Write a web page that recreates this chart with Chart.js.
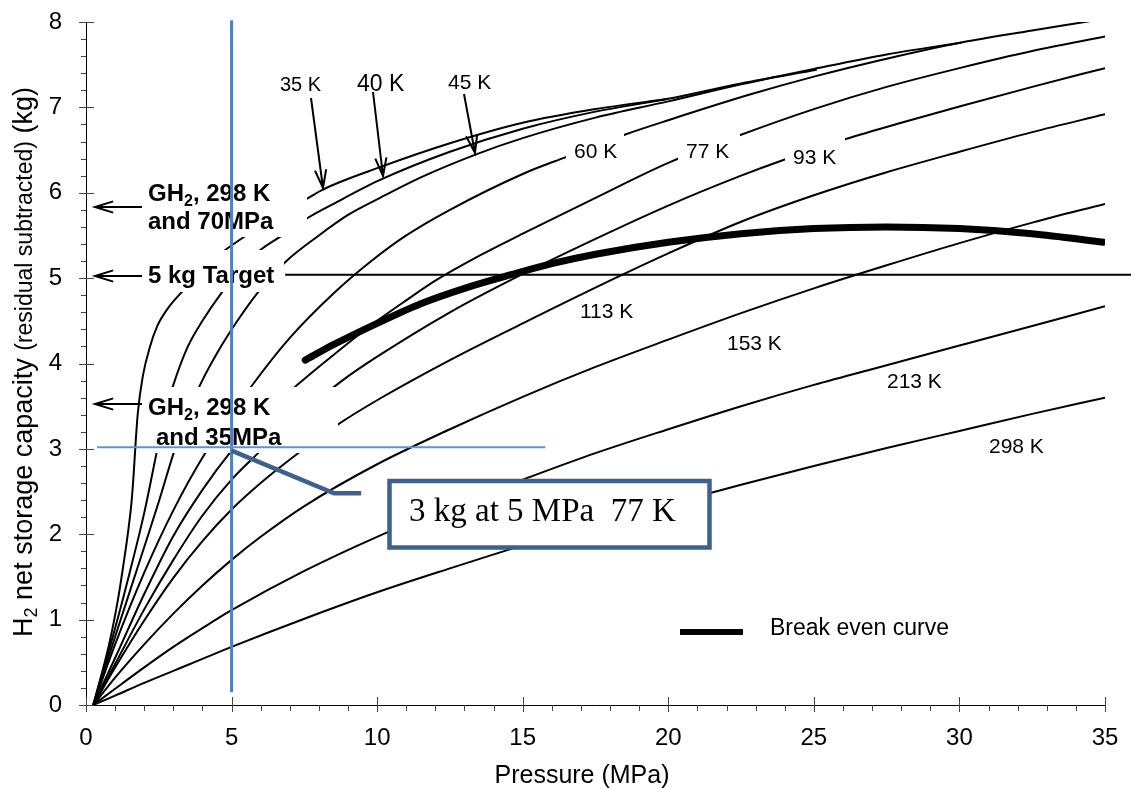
<!DOCTYPE html>
<html>
<head>
<meta charset="utf-8">
<title>H2 net storage capacity</title>
<script src="https://cdn.jsdelivr.net/npm/chart.js@4.4.1/dist/chart.umd.min.js"></script>
<style>
  html, body { margin: 0; padding: 0; background: #fff; }
  #wrap { width: 1131px; height: 789px; }
</style>
</head>
<body>
<div id="wrap"><canvas id="capacity-chart" width="1131" height="789"></canvas></div>
<script>
// axis ticks
const pressureTicks = [0, 5, 10, 15, 20, 25, 30, 35];
const capacityTicks = [0, 1, 2, 3, 4, 5, 6, 7, 8];

// isotherms, [pressure (MPa), net capacity (kg)]
const iso35K = [[0.25, 0], [0.8, 0.72], [1.1, 1.24], [1.31, 1.7], [1.45, 2.04], [1.57, 2.4], [1.64, 2.72], [1.7, 3.05],
  [1.78, 3.42], [1.95, 3.85], [2.2, 4.2], [2.45, 4.44], [2.8, 4.64], [3.3, 4.84], [4.0, 5.08], [4.6, 5.28], [5.37, 5.47],
  [6.5, 5.72], [7.64, 5.94], [8.15, 6.04], [10.1, 6.3], [12.5, 6.58], [15, 6.82], [17.5, 6.98], [20, 7.1]];
const iso40K = [[0.25, 0], [1, 0.9], [1.5, 1.55], [2.0, 2.25], [2.41, 2.93], [2.7, 3.4], [3.0, 3.75], [3.5, 4.2], [4.0, 4.5],
  [4.68, 4.84], [5.3, 5.1], [5.99, 5.33], [6.74, 5.5], [7.64, 5.71], [8.5, 5.87], [10.1, 6.15], [12.5, 6.48], [15, 6.75],
  [17.5, 6.95], [20, 7.1], [22.5, 7.28], [25.1, 7.44]];
const iso45K = [[0.25, 0], [1, 0.8], [2, 1.85], [2.5, 2.38], [2.99, 2.93], [3.45, 3.38], [3.92, 3.75], [4.5, 4.12], [5.2, 4.5],
  [5.92, 4.84], [6.85, 5.19], [8, 5.5], [9, 5.74], [10.1, 5.94], [11.5, 6.18], [13.4, 6.45], [15, 6.64], [17.5, 6.88],
  [20, 7.07], [22.5, 7.27], [25, 7.45], [27.5, 7.62], [30.07, 7.76]];
const iso60K = [[0.25, 0], [1, 0.71], [2, 1.55], [3, 2.28], [4.06, 2.93], [5, 3.4], [5.74, 3.76], [7, 4.3], [8.5, 4.82],
  [9.8, 5.2], [11, 5.5], [12.5, 5.8], [15, 6.22], [16.5, 6.42], [18.5, 6.68], [20, 6.85], [22.8, 7.15], [25, 7.36],
  [27.5, 7.57], [30.07, 7.76], [32.5, 7.9], [34.3, 8.0], [35, 8.04]];
const iso77K = [[0.25, 0], [1, 0.55], [2, 1.3], [3, 1.98], [4, 2.52], [5, 2.98], [6, 3.36], [7.26, 3.75], [8.5, 4.1],
  [10, 4.5], [11, 4.74], [12, 4.97], [13.5, 5.26], [15, 5.52], [17.5, 5.94], [20, 6.35], [22.5, 6.68], [25, 6.98],
  [27.5, 7.24], [30, 7.46], [32.5, 7.66], [35, 7.83]];
const iso93K = [[0.25, 0], [1, 0.48], [2, 1.12], [3, 1.7], [4, 2.22], [5, 2.64], [5.85, 2.93], [7, 3.3], [8.8, 3.8],
  [10, 4.08], [12.5, 4.6], [14.6, 4.98], [17.5, 5.46], [20, 5.85], [22.5, 6.2], [24, 6.39], [26.1, 6.63], [28, 6.82],
  [30, 7.01], [32.5, 7.24], [35, 7.46]];
const iso113K = [[0.25, 0], [1, 0.44], [2, 0.99], [3, 1.49], [4, 1.92], [5, 2.29], [6, 2.6], [7.33, 2.96], [8.67, 3.29],
  [10.1, 3.59], [12.5, 4.04], [15, 4.47], [18.3, 5.02], [20, 5.29], [22.5, 5.66], [25, 5.97], [27.5, 6.24], [30, 6.48],
  [32.5, 6.71], [35, 6.92]];
const iso153K = [[0.25, 0], [1, 0.32], [2, 0.71], [3, 1.07], [4, 1.4], [5, 1.7], [6, 1.97], [7.5, 2.33], [10, 2.82],
  [12.5, 3.23], [15, 3.61], [17.5, 3.96], [20, 4.28], [22.5, 4.59], [25, 4.88], [27.5, 5.15], [30, 5.41], [32.5, 5.65],
  [35, 5.87]];
const iso213K = [[0.25, 0], [1, 0.19], [2, 0.44], [3, 0.68], [4, 0.9], [5, 1.11], [7.5, 1.57], [10, 1.97], [12.5, 2.32],
  [15, 2.64], [17.5, 2.95], [20, 3.23], [22.5, 3.5], [25, 3.75], [27.5, 3.98], [30, 4.21], [32.5, 4.44], [35, 4.67]];
const iso298K = [[0.25, 0], [1, 0.11], [2, 0.26], [3, 0.4], [4, 0.54], [5, 0.68], [7.5, 1.01], [10, 1.32], [12.5, 1.6],
  [15, 1.87], [17.5, 2.12], [20, 2.35], [22.5, 2.58], [25, 2.8], [27.5, 3.01], [30, 3.21], [32.5, 3.41], [35, 3.6]];

const breakEven = [[7.53, 4.04], [8.5, 4.22], [10, 4.47], [11.5, 4.7], [13, 4.88], [14.6, 5.04], [16, 5.17], [17.5, 5.28],
  [20, 5.42], [22.5, 5.52], [25, 5.58], [27.5, 5.6], [30, 5.58], [32.5, 5.52], [34.95, 5.42]];
const targetLine = [[6.84, 5.04], [35.9, 5.04]];

// 77 K reading at 5 MPa
const refPressure = 5;
const refCapacity = 3.02;

const isotherms = [iso35K, iso40K, iso45K, iso60K, iso77K, iso93K, iso113K, iso153K, iso213K, iso298K];

const SANS = '"Liberation Sans", Arial, Helvetica, sans-serif';
const SERIF = '"Liberation Serif", "Times New Roman", serif';
const BLUE = 'rgb(79,129,189)';
const NAVY = 'rgb(62,96,143)';

const toXY = pts => pts.map(([x, y]) => ({ x, y }));

const datasets = [
  { label: 'Break even curve', data: toXY(breakEven), borderWidth: 7, borderCapStyle: 'round' },
  { label: '5 kg target', data: toXY(targetLine), borderWidth: 2, clip: false }
].concat(isotherms.map(pts => ({ data: toXY(pts), borderWidth: 2 })));

datasets.forEach(d => Object.assign(d, {
  showLine: true, borderColor: '#000', pointRadius: 0, fill: false, cubicInterpolationMode: 'monotone'
}));

// axis lines with crossing major ticks and outside minor ticks
const axisMarks = {
  id: 'axisMarks',
  beforeDatasetsDraw(chart) {
    const { ctx, chartArea: a, scales: { x, y } } = chart;
    ctx.save();
    ctx.strokeStyle = '#000';
    ctx.lineWidth = 1;
    ctx.beginPath();
    ctx.moveTo(a.left + 0.5, a.top);
    ctx.lineTo(a.left + 0.5, a.bottom + 0.5);
    ctx.lineTo(a.right, a.bottom + 0.5);
    ctx.stroke();
    ctx.strokeStyle = '#444';
    ctx.beginPath();
    for (let i = 0; i <= 40; i++) {
      const py = Math.round(y.getPixelForValue(i / 5)) + 0.5;
      ctx.moveTo(a.left - (i % 5 === 0 ? 7 : 5), py);
      ctx.lineTo(a.left + (i % 5 === 0 ? 8 : 0), py);
    }
    for (let i = 0; i <= 35; i++) {
      const px = Math.round(x.getPixelForValue(i)) + 0.5;
      ctx.moveTo(px, a.bottom + (i % 5 === 0 ? 7 : 6));
      ctx.lineTo(px, a.bottom - (i % 5 === 0 ? 8 : 0));
    }
    ctx.stroke();
    ctx.restore();
  }
};

function arrow(ctx, x1, y1, x2, y2) {
  const ang = Math.atan2(y2 - y1, x2 - x1);
  const len = 19, spread = 0.3;
  ctx.beginPath();
  ctx.moveTo(x1, y1);
  ctx.lineTo(x2, y2);
  ctx.moveTo(x2 - len * Math.cos(ang - spread), y2 - len * Math.sin(ang - spread));
  ctx.lineTo(x2, y2);
  ctx.lineTo(x2 - len * Math.cos(ang + spread), y2 - len * Math.sin(ang + spread));
  ctx.stroke();
}

// text made of runs with their own size / vertical shift
function runs(ctx, x, y, parts, weight) {
  let cx = x;
  parts.forEach(p => {
    ctx.font = `${weight} ${p.size}px ${SANS}`;
    ctx.fillText(p.t, cx, y + (p.dy || 0));
    cx += ctx.measureText(p.t).width;
  });
  return cx - x;
}

function runsWidth(ctx, parts, weight) {
  return parts.reduce((w, p) => {
    ctx.font = `${weight} ${p.size}px ${SANS}`;
    return w + ctx.measureText(p.t).width;
  }, 0);
}

const annotations = {
  id: 'annotations',
  afterDatasetsDraw(chart) {
    const { ctx, scales: { x, y } } = chart;
    ctx.save();

    // white text boxes sitting over the curves
    ctx.fillStyle = '#fff';
    [[145, 186, 162, 51], [145, 250, 139, 42], [145, 387, 193, 66],
     [566, 133, 58, 33], [678, 133, 62, 33], [785, 137, 60, 31]].forEach(r => ctx.fillRect(...r));

    ctx.fillStyle = '#000';
    ctx.strokeStyle = '#000';
    ctx.lineWidth = 2;
    ctx.textBaseline = 'alphabetic';
    ctx.textAlign = 'left';

    // left-hand references
    const gh2 = [{ t: 'GH', size: 24 }, { t: '2', size: 16, dy: 5 }, { t: ', 298 K', size: 24 }];
    runs(ctx, 148, 201, gh2, 'bold');
    runs(ctx, 148, 229, [{ t: 'and 70MPa', size: 24 }], 'bold');
    runs(ctx, 148, 283, [{ t: '5 kg Target', size: 24 }], 'bold');
    runs(ctx, 148, 415, gh2, 'bold');
    runs(ctx, 156, 445, [{ t: 'and 35MPa', size: 24 }], 'bold');
    arrow(ctx, 142, 207, 95, 207);
    arrow(ctx, 142, 276, 95, 276);
    arrow(ctx, 142, 404, 95, 404);

    // isotherm labels
    const lab = (t, px, py, size) => { ctx.font = `${size}px ${SANS}`; ctx.fillText(t, px, py); };
    lab('35 K', 280, 91, 20);
    lab('40 K', 357, 91, 23);
    lab('45 K', 448, 89, 21);
    lab('60 K', 574, 158, 21);
    lab('77 K', 686, 158, 21);
    lab('93 K', 793, 164, 21);
    lab('113 K', 580, 318, 21);
    lab('153 K', 727, 350, 21);
    lab('213 K', 887, 388, 21);
    lab('298 K', 989, 453, 21);
    arrow(ctx, 311, 98, 323, 188);
    arrow(ctx, 373, 92, 383, 176);
    arrow(ctx, 464, 94, 475, 153);

    // reference lines through 5 MPa / 3 kg
    ctx.strokeStyle = BLUE;
    ctx.lineWidth = 3;
    ctx.beginPath();
    ctx.moveTo(x.getPixelForValue(refPressure), y.getPixelForValue(0.15));
    ctx.lineTo(x.getPixelForValue(refPressure), y.getPixelForValue(8.02));
    ctx.stroke();
    ctx.strokeStyle = 'rgb(96,146,206)';
    ctx.lineWidth = 2;
    ctx.beginPath();
    ctx.moveTo(x.getPixelForValue(0.38), y.getPixelForValue(refCapacity));
    ctx.lineTo(x.getPixelForValue(15.78), y.getPixelForValue(refCapacity));
    ctx.stroke();

    // callout
    ctx.strokeStyle = NAVY;
    ctx.lineWidth = 4.5;
    ctx.lineJoin = 'miter';
    ctx.beginPath();
    ctx.moveTo(x.getPixelForValue(refPressure), y.getPixelForValue(2.98));
    ctx.lineTo(x.getPixelForValue(8.52), y.getPixelForValue(2.48));
    ctx.lineTo(x.getPixelForValue(9.45), y.getPixelForValue(2.48));
    ctx.stroke();
    ctx.fillStyle = '#fff';
    ctx.fillRect(389.5, 481, 320, 66.5);
    ctx.strokeRect(389.5, 481, 320, 66.5);
    ctx.fillStyle = '#000';
    ctx.font = `33px ${SERIF}`;
    ctx.fillText('3 kg at 5 MPa  77 K', 409, 521);

    // legend
    ctx.strokeStyle = '#000';
    ctx.lineWidth = 6;
    ctx.lineCap = 'butt';
    ctx.beginPath();
    ctx.moveTo(680, 632);
    ctx.lineTo(743, 632);
    ctx.stroke();
    ctx.font = `23px ${SANS}`;
    ctx.fillText('Break even curve', 770, 635);

    // axis titles
    ctx.font = `25px ${SANS}`;
    ctx.textAlign = 'center';
    ctx.fillText('Pressure (MPa)', 582, 783);
    ctx.textAlign = 'left';
    const yTitle = [
      { t: 'H', size: 27 }, { t: '2', size: 18, dy: 5 }, { t: ' net storage capacity ', size: 27 },
      { t: '(residual subtracted)', size: 23 }, { t: ' (kg)', size: 27 }
    ];
    const w = runsWidth(ctx, yTitle, 'normal');
    ctx.translate(32, 362);
    ctx.rotate(-Math.PI / 2);
    runs(ctx, -w / 2, 0, yTitle, 'normal');
    ctx.restore();
  }
};

// keep tick-label overhang out of the layout so the plot box sits where padding says
const noOverhang = s => { s.paddingTop = 0; s.paddingBottom = 0; s.paddingLeft = 0; s.paddingRight = 0; };

const ctx = document.getElementById('capacity-chart').getContext('2d');
const capacityChart = new Chart(ctx, {
  type: 'scatter',
  data: { datasets: datasets },
  options: {
    responsive: false,
    animation: false,
    devicePixelRatio: 1,
    layout: { padding: { left: 0, top: 22, right: 26, bottom: 0 } },
    plugins: { legend: { display: false }, tooltip: { enabled: false } },
    scales: {
      x: {
        type: 'linear', min: 0, max: 35,
        grid: { display: false, drawTicks: false },
        border: { display: false },
        afterBuildTicks: s => { s.ticks = pressureTicks.map(v => ({ value: v })); },
        afterFit: s => { s.height = 84; noOverhang(s); },
        ticks: { font: { family: SANS, size: 24 }, color: '#000', padding: 19, maxRotation: 0, autoSkip: false }
      },
      y: {
        type: 'linear', min: 0, max: 8,
        grid: { display: false, drawTicks: false },
        border: { display: false },
        afterBuildTicks: s => { s.ticks = capacityTicks.map(v => ({ value: v })); },
        afterFit: s => { s.width = 86; noOverhang(s); },
        ticks: { font: { family: SANS, size: 24 }, color: '#000', padding: 24, autoSkip: false }
      }
    }
  },
  plugins: [axisMarks, annotations]
});
</script>
</body>
</html>
